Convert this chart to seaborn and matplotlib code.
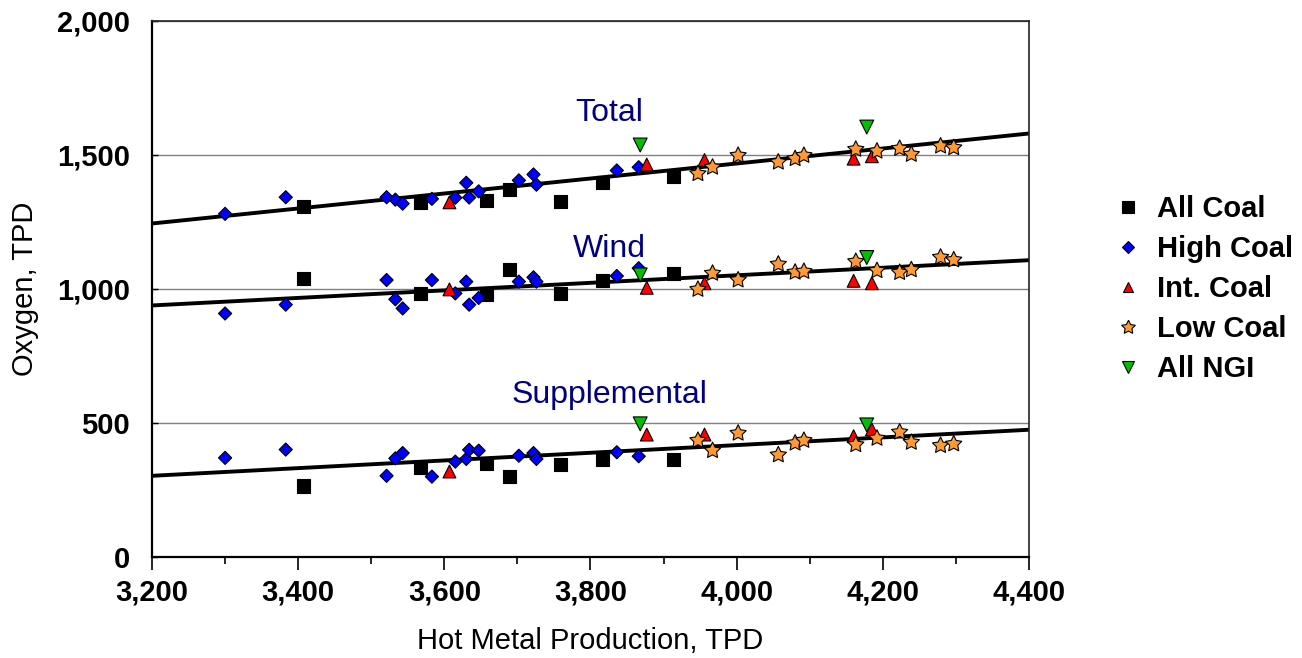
import numpy as np
import pandas as pd
import matplotlib
matplotlib.use("Agg")
import matplotlib.pyplot as plt
from matplotlib.ticker import FuncFormatter, MultipleLocator
import seaborn as sns

# ---------------- data ----------------
all_x     = [3407, 3568, 3658, 3689, 3759, 3817, 3913]
all_total = [1306, 1321, 1331, 1371, 1327, 1396, 1418]
all_wind  = [1037, 983, 980, 1073, 983, 1030, 1058]
all_supp  = [264, 334, 349, 299, 344, 362, 362]

high_x     = [3300, 3383, 3521, 3533, 3543, 3583, 3615, 3630, 3634, 3647, 3702, 3722, 3726, 3836, 3866]
high_total = [1280, 1342, 1342, 1333, 1318, 1336, 1340, 1396, 1341, 1364, 1405, 1427, 1389, 1442, 1454]
high_wind  = [908, 941, 1033, 961, 927, 1033, 983, 1027, 941, 966, 1027, 1043, 1027, 1048, 1077]
high_supp  = [369, 400, 302, 367, 387, 299, 355, 365, 399, 396, 377, 387, 365, 390, 375]

int_x     = [3607, 3877, 3956, 4160, 4185]
int_total = [1323, 1464, 1481, 1486, 1495]
int_wind  = [998, 1004, 1021, 1030, 1021]
int_supp  = [318, 456, 456, 450, 475]

low_x     = [3947, 3967, 4002, 4057, 4080, 4092, 4163, 4192, 4223, 4239, 4279, 4297]
low_total = [1430, 1454, 1498, 1473, 1486, 1498, 1521, 1514, 1524, 1502, 1533, 1527]
low_wind  = [998, 1058, 1033, 1092, 1062, 1065, 1102, 1068, 1061, 1071, 1118, 1108]
low_supp  = [434, 396, 461, 380, 424, 434, 418, 442, 465, 427, 415, 421]

ngi_x     = [3868, 4178]
ngi_total = [1537, 1604]
ngi_wind  = [1052, 1117]
ngi_supp  = [496, 492]

trend_x     = [3200, 4400]
trend_total = [1244, 1580]
trend_wind  = [938, 1107]
trend_supp  = [302, 474]

case_names = ["All Coal", "High Coal", "Int. Coal", "Low Coal", "All NGI"]
series_labels = ["Total", "Wind", "Supplemental"]
x_ticks = [3200, 3400, 3600, 3800, 4000, 4200, 4400]
y_ticks = [0, 500, 1000, 1500, 2000]

# ---------------- build long table ----------------
groups = [
    ("All Coal", all_x, all_total, all_wind, all_supp),
    ("High Coal", high_x, high_total, high_wind, high_supp),
    ("Int. Coal", int_x, int_total, int_wind, int_supp),
    ("Low Coal", low_x, low_total, low_wind, low_supp),
    ("All NGI", ngi_x, ngi_total, ngi_wind, ngi_supp),
]
rows = []
for name, xs, tot, wnd, sup in groups:
    for series, vals in (("Total", tot), ("Wind", wnd), ("Supplemental", sup)):
        for xv, yv in zip(xs, vals):
            rows.append({"production": xv, "oxygen": yv, "case": name, "series": series})
df = pd.DataFrame(rows)

trend_df = pd.DataFrame({
    "production": trend_x * 3,
    "oxygen": trend_total + trend_wind + trend_supp,
    "series": ["Total"] * 2 + ["Wind"] * 2 + ["Supplemental"] * 2,
})

# ---------------- style ----------------
sns.set_style("white")
plt.rcParams["font.family"] = ["Liberation Sans", "DejaVu Sans"]
plt.rcParams["text.color"] = "black"
plt.rcParams["axes.labelcolor"] = "black"
plt.rcParams["xtick.color"] = "black"
plt.rcParams["ytick.color"] = "black"

palette = {"All Coal": "#000000", "High Coal": "#0000FF", "Int. Coal": "#FF0000",
           "Low Coal": "#FF9933", "All NGI": "#00C000"}
markers = {"All Coal": "s", "High Coal": "D", "Int. Coal": "^",
           "Low Coal": (5, 1, 0), "All NGI": "v"}
sizes = {"All Coal": 88, "High Coal": 45, "Int. Coal": 85,
         "Low Coal": 150, "All NGI": 100}

fig = plt.figure(figsize=(13.02, 6.58), dpi=100)
ax = fig.add_axes([152 / 1302, 1 - 556.7 / 658, (1029 - 152) / 1302, (556.7 - 21) / 658])

ax.yaxis.grid(True, color="#808080", linewidth=1.0)
ax.set_axisbelow(True)

sns.lineplot(data=trend_df, x="production", y="oxygen", units="series", estimator=None,
             color="black", linewidth=2.8, legend=False, ax=ax, zorder=2)

sns.scatterplot(data=df, x="production", y="oxygen", hue="case", style="case", size="case",
                hue_order=case_names, style_order=case_names, size_order=case_names,
                palette=palette, markers=markers, sizes=sizes,
                edgecolor="black", linewidth=0.8, ax=ax, zorder=3)

ax.set_xlim(3200, 4400)
ax.set_ylim(0, 2000)
ax.set_xticks(x_ticks)
ax.xaxis.set_minor_locator(MultipleLocator(100))
ax.set_yticks(y_ticks)
fmt = FuncFormatter(lambda v, p: f"{int(v):,}")
ax.xaxis.set_major_formatter(fmt)
ax.yaxis.set_major_formatter(fmt)

ax.tick_params(axis="x", which="major", direction="out", length=9.5, width=1.2,
               color="black", labelsize=21, pad=6, bottom=True, labelcolor="black")
ax.tick_params(axis="x", which="minor", direction="out", length=5, width=1.2,
               color="black", bottom=True)
ax.tick_params(axis="y", which="major", direction="in", length=4, width=1.0,
               color="black", labelsize=21, pad=16, left=True, labelcolor="black")
for lab in ax.get_xticklabels() + ax.get_yticklabels():
    lab.set_fontweight("bold")

for side in ("left", "bottom"):
    ax.spines[side].set_linewidth(1.6)
    ax.spines[side].set_color("black")
for side in ("top", "right"):
    ax.spines[side].set_linewidth(1.2)
    ax.spines[side].set_color("#222222")
    ax.spines[side].set_visible(True)

ax.set_xlabel("Hot Metal Production, TPD", fontsize=21, color="black")
ax.set_ylabel("Oxygen, TPD", fontsize=21, color="black")
ax.xaxis.set_label_coords(0.5, -0.132)
ax.yaxis.set_label_coords(-0.129, 0.5)

# series labels
label_pos = {"Total": 1626, "Wind": 1119, "Supplemental": 572}
for s in series_labels:
    ax.text(3826, label_pos[s], s, color="#000080", fontsize=23, ha="center", va="baseline")

# legend
handles, labels = ax.get_legend_handles_labels()
if ax.get_legend() is not None:
    ax.get_legend().remove()
leg = fig.legend(handles, labels, loc="center left", bbox_to_anchor=(1113 / 1302, 1 - 289 / 658),
                 frameon=False, prop={"weight": "bold", "size": 21}, handlelength=1.0,
                 handletextpad=0.5, labelspacing=0.41, borderpad=0, borderaxespad=0,
                 markerscale=0.85)
for t in leg.get_texts():
    t.set_color("black")

fig.savefig("out.png", dpi=100)
